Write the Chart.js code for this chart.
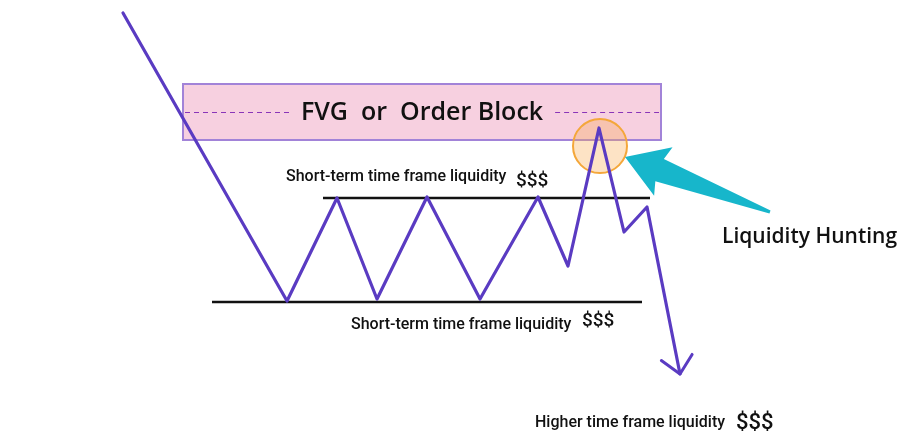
<!DOCTYPE html>
<html>
<head>
<meta charset="utf-8">
<script src="https://cdn.jsdelivr.net/npm/chart.js@4"></script>
<style>
  html, body { margin: 0; padding: 0; background: #fff; }
  #wrap { width: 901px; height: 443px; position: relative; }
</style>
</head>
<body>
<div id="wrap"><canvas id="chart"></canvas></div>
<script>
// price path (time, price) - price measured upward
const times  = [123, 287, 337, 377, 427, 480, 538, 568, 599, 624, 647, 680];
const prices = [430, 142, 245, 144, 246, 144, 246, 177, 315, 211, 236, 69];

// liquidity levels
const upperLevel = 245;
const upperSpan = [323, 650];
const lowerLevel = 141;
const lowerSpan = [212, 642];

// FVG / order block zone
const zoneTime = [183, 661];
const zonePrice = [303, 359];

// labels
const zoneLabel = 'FVG  or  Order Block';
const shortLabel = 'Short-term time frame liquidity';
const higherLabel = 'Higher time frame liquidity';
const huntLabel = 'Liquidity Hunting';

const pathData = times.map((t, i) => ({ x: t, y: prices[i] }));

const drawExtras = {
  id: 'drawExtras',
  beforeDatasetsDraw(chart) {
    const { ctx, scales: { x, y } } = chart;
    ctx.save();
    // zone box
    const x0 = x.getPixelForValue(zoneTime[0]), x1 = x.getPixelForValue(zoneTime[1]);
    const y0 = y.getPixelForValue(zonePrice[1]), y1 = y.getPixelForValue(zonePrice[0]);
    ctx.fillStyle = '#f7d0e0';
    ctx.fillRect(x0, y0, x1 - x0, y1 - y0);
    ctx.strokeStyle = '#a283d8';
    ctx.lineWidth = 2;
    ctx.strokeRect(x0, y0, x1 - x0, y1 - y0);
    // mid dashed line + label
    const ym = Math.round((y0 + y1) / 2) + 0.5;
    ctx.font = '600 25px "Open Sans"';
    ctx.textAlign = 'center';
    ctx.textBaseline = 'middle';
    const cx = (x0 + x1) / 2;
    const w = ctx.measureText(zoneLabel).width;
    ctx.strokeStyle = '#8a35b8';
    ctx.lineWidth = 1;
    ctx.setLineDash([5, 4]);
    ctx.beginPath();
    ctx.moveTo(x0 + 2, ym); ctx.lineTo(cx - w / 2 - 10, ym);
    ctx.moveTo(cx + w / 2 + 12, ym); ctx.lineTo(x1 - 2, ym);
    ctx.stroke();
    ctx.setLineDash([]);
    ctx.fillStyle = '#111';
    ctx.fillText(zoneLabel, cx, ym + 0.5);
    // hunting circle around peak
    const px = x.getPixelForValue(times[8]), py = y.getPixelForValue(prices[8]);
    ctx.beginPath();
    ctx.arc(px + 1, py + 18, 27, 0, Math.PI * 2);
    ctx.fillStyle = 'rgba(248, 170, 80, 0.33)';
    ctx.fill();
    ctx.strokeStyle = '#f4a73a';
    ctx.lineWidth = 2;
    ctx.stroke();
    ctx.restore();
  },
  afterDatasetsDraw(chart) {
    const { ctx, scales: { x, y } } = chart;
    ctx.save();
    // arrow head at end of path
    const n = times.length;
    const tx = x.getPixelForValue(times[n - 1]), ty = y.getPixelForValue(prices[n - 1]);
    const sx = x.getPixelForValue(times[n - 2]), sy = y.getPixelForValue(prices[n - 2]);
    const ang = Math.atan2(sy - ty, sx - tx);
    ctx.strokeStyle = '#5a3bc2';
    ctx.lineWidth = 3;
    ctx.lineCap = 'round';
    ctx.lineJoin = 'round';
    ctx.beginPath();
    ctx.moveTo(tx + 23 * Math.cos(ang + 0.75), ty + 23 * Math.sin(ang + 0.75));
    ctx.lineTo(tx, ty);
    ctx.lineTo(tx + 23 * Math.cos(ang - 0.75), ty + 23 * Math.sin(ang - 0.75));
    ctx.stroke();

    // cyan arrow pointing at the circle
    const ax = x.getPixelForValue(625), ay = y.getPixelForValue(286);
    const bx = x.getPixelForValue(770), by = y.getPixelForValue(231);
    const len = Math.hypot(ax - bx, ay - by);
    const ux = (ax - bx) / len, uy = (ay - by) / len;
    const nx = -uy, ny = ux;
    const hb = 41, hw = 26, sw = 12;
    const pt = (d, o) => [ax - ux * d + nx * o, ay - uy * d + ny * o];
    const poly = [pt(0, 0), pt(hb, hw), pt(hb - 4, sw), [bx + nx * 1.5, by + ny * 1.5],
                  [bx - nx * 1.5, by - ny * 1.5], pt(hb - 4, -sw), pt(hb, -hw)];
    ctx.fillStyle = '#17b6cb';
    ctx.beginPath();
    poly.forEach((p, i) => i ? ctx.lineTo(p[0], p[1]) : ctx.moveTo(p[0], p[1]));
    ctx.closePath();
    ctx.fill();

    // texts
    ctx.fillStyle = '#111';
    ctx.textBaseline = 'middle';
    ctx.textAlign = 'left';
    ctx.font = '500 16px Roboto';
    ctx.fillText(shortLabel, x.getPixelForValue(286), y.getPixelForValue(266));
    ctx.fillText(shortLabel, x.getPixelForValue(351), y.getPixelForValue(118));
    ctx.fillText(higherLabel, x.getPixelForValue(535), y.getPixelForValue(20));
    ctx.font = '500 19px Roboto';
    ctx.fillText('$$$', x.getPixelForValue(516), y.getPixelForValue(262));
    ctx.fillText('$$$', x.getPixelForValue(582), y.getPixelForValue(122));
    ctx.font = '500 22px Roboto';
    ctx.fillText('$$$', x.getPixelForValue(736), y.getPixelForValue(20));
    ctx.font = '600 21px "Open Sans"';
    ctx.fillText(huntLabel, x.getPixelForValue(722), y.getPixelForValue(206));
    ctx.restore();
  }
};

new Chart(document.getElementById('chart'), {
  type: 'line',
  data: {
    datasets: [
      {
        data: pathData,
        borderColor: '#5a3bc2',
        borderWidth: 3.2,
        pointRadius: 0,
        tension: 0,
        borderJoinStyle: 'round',
        borderCapStyle: 'round'
      },
      {
        data: upperSpan.map(t => ({ x: t, y: upperLevel })),
        borderColor: '#111',
        borderWidth: 2.5,
        pointRadius: 0,
        order: 2
      },
      {
        data: lowerSpan.map(t => ({ x: t, y: lowerLevel })),
        borderColor: '#111',
        borderWidth: 2.5,
        pointRadius: 0,
        order: 2
      }
    ]
  },
  options: {
    responsive: true,
    maintainAspectRatio: false,
    animation: false,
    layout: { padding: 0 },
    plugins: { legend: { display: false }, tooltip: { enabled: false } },
    scales: {
      x: { type: 'linear', min: 0, max: 901, display: false },
      y: { type: 'linear', min: 0, max: 443, display: false }
    }
  },
  plugins: [drawExtras]
});
</script>
</body>
</html>
